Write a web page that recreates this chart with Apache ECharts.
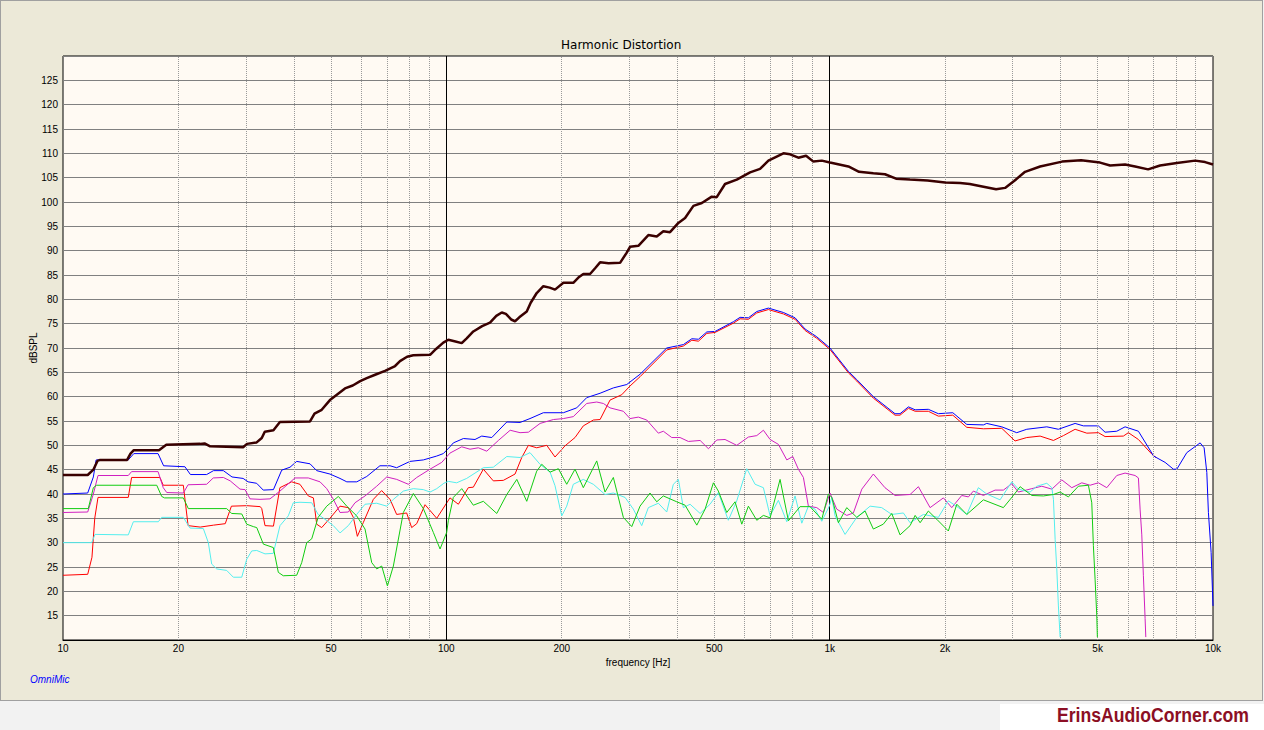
<!DOCTYPE html>
<html><head><meta charset="utf-8">
<script src="https://cdn.jsdelivr.net/npm/echarts@6/dist/echarts.min.js"></script>
<style>
html,body{margin:0;padding:0;background:#f2f2f2;width:1264px;height:730px;overflow:hidden;}
#panel{position:absolute;left:0;top:0;width:1261px;height:699px;background:#ECE9D8;border:1px solid #a0a0a0;}
#wm{position:absolute;left:1000px;top:704px;width:264px;height:26px;background:#fff;}
#chart{position:absolute;left:0;top:0;width:1264px;height:730px;}
</style></head>
<body>
<div id="panel"></div><div id="wm"></div>
<div id="chart"></div>
<script>
// ---- tick/grid values ----
const xTicks = [10,20,50,100,200,500,1000,2000,5000,10000];
const minorGrid = [20,30,40,50,60,70,80,90,200,300,400,500,600,700,800,900,2000,3000,4000,5000,6000,7000,8000,9000];
const majorGrid = [100,1000];

// ---- series data [Hz, dB SPL] ----
const fundamental = [[10,43.9],[11.6,43.9],[12.0,45],[12.3,46.8],[12.5,47],[14.7,47],[15.0,48.3],[15.3,49],[17.8,49],[18.3,49.7],[18.6,50.1],[22.8,50.3],[23.4,50.4],[24.2,49.8],[29.5,49.6],[30.2,50.3],[32.0,50.6],[33.0,51.5],[33.6,52.8],[35.4,53.1],[36.8,54.8],[44.1,54.9],[45.3,56.5],[47.3,57.3],[49.7,59.3],[52,60.5],[54.4,61.7],[57,62.3],[59.6,63.2],[62,63.8],[65.2,64.5],[69.2,65.3],[73.5,66.3],[75.7,67.3],[79,68.2],[82,68.5],[90.7,68.6],[94,69.8],[98.2,71.1],[101.2,71.7],[105,71.4],[109.7,71.0],[113,72],[117.6,73.4],[124,74.5],[130,75.2],[135,76.6],[139.5,77.3],[143,77],[148,75.8],[151.1,75.5],[155,76.3],[162.1,77.5],[166,79.3],[172.1,81.3],[179.1,82.7],[186,82.4],[192.1,82.0],[202,83.4],[214.4,83.4],[222,84.6],[227.7,85.2],[237.1,85.2],[245,86.5],[251.8,87.6],[265,87.4],[283.9,87.5],[295,89.5],[301.5,90.8],[316.9,91.0],[336.5,93.2],[353.9,92.9],[368.2,94.0],[383.3,93.8],[403,95.7],[419.6,96.7],[441.1,99.2],[464,99.8],[492.6,101.1],[507.5,101.0],[533.4,103.7],[572.3,104.6],[620,106.1],[658.3,106.8],[692.1,108.5],[757.3,110.0],[788.4,109.8],[828.6,109.1],[867.9,109.5],[906.8,108.3],[953.7,108.5],[1002,108.1],[1119,107.3],[1193,106.2],[1300,105.9],[1394,105.7],[1490,104.8],[1620,104.6],[1800,104.4],[2000,104.0],[2190,103.9],[2320,103.7],[2500,103.2],[2717,102.6],[2868,102.9],[3027,104.3],[3234,106.2],[3540,107.3],[4040,108.3],[4529,108.6],[5075,108.1],[5389,107.5],[5897,107.7],[6263,107.3],[6772,106.7],[7278,107.5],[8047,108.0],[8982,108.5],[9537,108.2],[10000,107.7]];

const thd = [[10,40],[11.6,40.2],[12.0,43.5],[12.2,47],[14.8,47],[15.3,48.3],[17.7,48.3],[18.3,45.8],[20.8,45.6],[21.5,44.0],[23.7,44.0],[24.7,44.8],[26.2,44.8],[27.6,43.5],[29.5,43.2],[30.4,42.5],[32.0,42.2],[33.3,40.8],[35.4,40.9],[37.2,44.9],[39.1,45.5],[40.7,46.7],[44.1,46.2],[45.9,44.8],[49.7,44.1],[52.8,43.2],[55.0,42.5],[58.4,42.5],[62.0,43.6],[67.1,45.8],[71.3,45.8],[74.2,45.4],[80.4,46.7],[87.1,47.0],[94.4,47.8],[98.2,48.3],[102.2,49.7],[104.3,50.5],[110.8,51.4],[118.8,51.2],[123.7,51.9],[131.4,51.6],[143.8,54.8],[155.7,54.7],[165.3,55.5],[179.1,56.7],[202,56.7],[218.8,57.7],[232.4,59.8],[251.8,60.7],[272.7,61.8],[295.6,62.5],[320.1,64.6],[375.8,70.0],[415.2,70.7],[436.9,71.9],[454.6,71.8],[478.1,73.3],[502.3,73.4],[560.8,75.4],[583.8,76.3],[613.7,76.2],[645.4,77.5],[692.1,78.2],[757.3,77.3],[812.4,76.2],[862.7,73.9],[925.4,72.3],[1002,70.0],[1119,65.2],[1177,63.5],[1300,60.0],[1481,56.5],[1526,56.5],[1605,57.9],[1671,57.3],[1809,57.4],[1921,56.5],[2095,56.7],[2279,54.3],[2518,54.2],[2569,54.5],[2812,53.8],[3076,52.6],[3267,53.3],[3685,53.8],[3951,53.3],[4368,54.5],[4591,54.0],[5023,54.0],[5230,52.7],[5610,52.9],[5897,53.8],[6389,52.9],[7000,47.8],[7499,46.5],[7884,45.1],[8047,45.1],[8544,48.5],[9256,50.5],[9480,49.5],[9636,44.4],[9728,36.2],[9888,28.0],[10000,17.0]];

const h2 = [[10,23.3],[11.6,23.5],[11.9,27],[12.1,35],[12.34,39.3],[14.8,39.3],[15.1,43.4],[17.9,43.4],[18.26,41.8],[20.6,41.8],[21.2,33.5],[22.8,33.2],[24.7,33.6],[26.5,33.9],[27.5,37.5],[30.2,37.6],[32.7,37.4],[33.0,37.0],[33.65,33.5],[35.4,33.4],[36.8,41.3],[39.5,42.5],[41.5,42.0],[43.65,39.6],[45.0,39.2],[45.9,33.8],[47.3,33.1],[49.7,35.0],[52.8,37.5],[55.5,37.2],[57.2,35.2],[58.6,31.3],[60.7,34.1],[64.5,38.9],[67.8,40.7],[71.3,38.9],[74.2,35.8],[78.8,36.1],[81.2,33.1],[83.7,33.9],[88.0,37.8],[94.4,35.0],[102.2,39.2],[107.5,37.9],[114.1,41.3],[117.6,41.4],[124.9,45.1],[132.6,42.7],[140.8,42.8],[151.1,44.1],[157.3,47.5],[163.7,50.0],[172.1,49.5],[182.8,50.0],[192.1,47.6],[204.0,49.9],[216.6,51.6],[227.7,54.0],[241.8,55.2],[251.8,55.3],[267.3,59.3],[286.8,60.4],[301.5,62.2],[320.1,64.1],[375.8,69.6],[415.2,70.4],[436.9,71.6],[454.6,71.4],[478.1,73.0],[502.3,73.2],[560.8,75.1],[583.8,76.0],[613.7,75.9],[645.4,77.2],[692.1,77.9],[757.3,77.0],[812.4,75.9],[862.7,73.6],[925.4,72.0],[1002,69.7],[1119,64.9],[1177,63.2],[1300,59.7],[1481,56.2],[1526,56.2],[1605,57.6],[1671,57.0],[1809,57.0],[1921,56.0],[2095,56.2],[2279,53.7],[2518,53.4],[2812,53.5],[3045,50.9],[3267,51.6],[3540,51.9],[3835,51.0],[4072,52.0],[4368,53.3],[4686,52.5],[5023,52.6],[5230,51.8],[5837,51.9],[6016,52.6],[6389,51.2],[6924,48.2],[7100,47.5]];

const h3 = [[10,36.2],[11.6,36.3],[12.0,40],[12.34,43.8],[14.8,43.8],[15.1,44.6],[17.7,44.6],[18.26,41.3],[18.65,40.3],[20.6,40.2],[21.2,41.9],[23.7,42.0],[24.66,43.3],[26.2,43.4],[27.3,42.7],[28.96,41.0],[29.85,40.9],[30.75,39.0],[32.66,38.9],[34.67,39.0],[36.82,40.6],[40.29,43.3],[43.65,43.3],[46.83,42.5],[48.75,41.1],[50.73,38.9],[52.81,36.2],[55.5,36.3],[57.78,38.2],[61.36,39.6],[65.82,41.6],[69.92,43.5],[74.23,43.0],[79.6,42.0],[83.72,43.4],[90.68,45.1],[97.28,46.5],[102.2,48.4],[109.7,49.7],[115.3,49.2],[121.2,49.5],[127.5,48.8],[136.7,51.0],[146.7,53.1],[155.7,52.6],[163.7,52.7],[175.6,54.5],[190.2,55.3],[202,55.5],[214.4,55.9],[232.4,58.6],[246.8,58.9],[256.8,58.6],[267.3,57.7],[289.6,57.0],[301.5,55.5],[316.9,55.8],[333.3,55.2],[357.3,52.5],[368.2,52.9],[387.3,51.6],[407.1,51.6],[428.0,50.8],[459.3,51.0],[482.8,49.3],[507.5,51.1],[533.4,51.2],[572.3,50.0],[613.7,51.7],[645.4,52.0],[671.6,53.1],[699.2,51.2],[734.9,50.2],[773.0,47.0],[801.2,47.7],[828.6,45.1],[854.0,43.4],[880.0,37.5],[925.4,37.2],[963,36.2],[1002,40.2],[1043,36.9],[1108,35.6],[1153,36.1],[1213,41.0],[1300,44.1],[1394,41.3],[1481,39.7],[1621,39.9],[1704,41.5],[1828,37.2],[1980,39.2],[2082,37.2],[2211,39.7],[2301,39.4],[2371,40.6],[2518,39.7],[2701,40.8],[2839,40.8],[2986,42.1],[3106,40.4],[3368,41.1],[3576,41.6],[3798,41.0],[4033,42.9],[4282,41.3],[4547,42.3],[4779,41.8],[5023,42.3],[5283,41.3],[5610,43.8],[5897,44.3],[6263,43.8],[6389,43.3],[6454,36.9],[6520,31.6],[6583,23.2],[6651,14.4],[6679,10.6]];

const h4 = [[10,30.0],[11.88,30.0],[12.12,31.7],[14.8,31.6],[15.26,34.3],[17.73,34.3],[18.09,35.2],[20.6,35.2],[21.45,33.0],[23.23,32.9],[23.94,30.0],[24.43,25.6],[25.18,24.6],[26.73,24.3],[27.82,22.9],[29.26,22.9],[30.15,26.6],[31.07,28.3],[32.02,28.4],[33.65,27.7],[35.37,27.8],[36.82,33.5],[38.7,35.5],[39.88,38.2],[41.52,38.3],[44.56,38.2],[46.3,35.8],[48.25,34.8],[50.73,33.5],[52.81,32.0],[55.5,33.5],[58.37,35.8],[61.36,37.9],[65.82,38.1],[69.92,37.5],[72.75,38.9],[77.24,40.6],[82.02,41.1],[87.10,40.9],[90.68,40.4],[94.41,41.1],[98.5,42.2],[101.2,42.6],[106.4,42.3],[113.0,43.2],[124.9,45.4],[132.6,45.5],[143.8,47.7],[155.7,47.5],[165.3,48.5],[175.6,46.1],[186.5,44.5],[192.1,41.7],[200.0,35.5],[206.1,37.5],[214.4,42.0],[227.7,43.0],[241.8,42.0],[259.4,39.9],[272.7,40.2],[292.6,39.3],[307.5,36.9],[323.4,33.5],[336.5,37.2],[357.3,38.1],[375.8,36.3],[391.0,42.0],[403.0,43.0],[415.2,37.2],[432.4,37.9],[459.3,36.0],[487.6,37.9],[512.4,40.3],[544.1,34.6],[572.3,38.6],[607.8,45.2],[638.9,42.0],[671.6,41.3],[699.2,35.5],[734.9,38.7],[773.0,34.3],[812.4,39.6],[845.8,34.0],[880.0,37.5],[916.0,36.9],[953.7,34.4],[998,37.5],[1013,39.3],[1033,35.5],[1097,31.7],[1177,35.2],[1275,37.5],[1367,37.2],[1452,35.8],[1557,36.1],[1621,34.1],[1756,35.8],[1921,35.2],[2040,38.6],[2167,37.2],[2279,35.8],[2443,41.3],[2569,40.0],[2783,38.8],[2986,42.5],[3106,41.0],[3333,40.4],[3470,41.6],[3685,42.2],[3798,41.3],[3835,38.9],[3874,30.7],[3913,24.6],[3951,17.0],[3992,10.6]];

const h5 = [[10,37.0],[11.64,37.0],[12.0,41.3],[12.24,41.8],[17.56,41.8],[18.09,39.5],[18.4,39.2],[20.6,39.2],[21.23,37.0],[26.73,37.0],[27.55,36.0],[29.26,35.9],[30.15,33.8],[31.37,33.3],[32.02,33.1],[33.32,29.7],[35.37,29.0],[36.45,23.9],[37.55,23.2],[40.7,23.3],[41.95,25.9],[43.23,30.0],[44.56,30.8],[46.3,35.2],[48.75,37.5],[52.28,39.5],[54.98,37.5],[58.37,35.5],[61.36,32.8],[63.88,25.9],[65.82,24.6],[67.83,25.2],[70.2,21.1],[72.75,25.2],[77.24,36.2],[82.02,40.1],[87.10,37.0],[92.5,32.1],[96.3,28.7],[100.2,32.1],[101.2,34.5],[104.3,39.3],[109.7,41.1],[117.6,37.7],[124.9,38.5],[135.4,36.0],[143.8,39.9],[152.7,43.0],[162.1,38.5],[172.1,44.7],[177.4,46.1],[186.5,44.5],[196.0,45.2],[206.1,42.0],[216.6,45.1],[227.7,41.3],[246.8,46.8],[259.4,40.4],[272.7,43.4],[289.6,35.2],[304.6,33.3],[320.1,37.5],[339.9,40.2],[353.9,38.4],[368.2,39.6],[383.3,39.0],[399.1,38.4],[419.6,37.7],[450.2,33.6],[473.3,36.9],[497.4,42.3],[512.4,40.6],[538.9,36.2],[566.5,38.4],[589.8,33.8],[613.7,37.5],[645.4,34.6],[671.6,35.6],[699.2,35.1],[742.4,43.0],[780.5,34.5],[837.2,37.4],[888.9,37.4],[953.7,34.8],[992.2,40.0],[1013,39.3],[1054,34.1],[1108,37.2],[1177,35.2],[1237,36.5],[1300,32.8],[1380,33.8],[1452,36.0],[1526,31.6],[1621,33.5],[1671,35.6],[1722,34.1],[1809,36.5],[1903,34.8],[2040,32.4],[2146,37.9],[2279,35.8],[2518,38.8],[2839,37.2],[3015,39.7],[3139,41.5],[3368,39.7],[3611,39.6],[3835,39.9],[3992,40.4],[4196,39.4],[4455,41.6],[4731,41.8],[4828,38.2],[4875,29.4],[4925,22.5],[4975,15.0],[4993,10.6]];

const FONT = '"Liberation Sans", Arial, sans-serif';
const chart = echarts.init(document.getElementById('chart'), null, {renderer: 'svg'});

function lineSeries(name, data, color, width, z) {
  return {name, type: 'line', data, showSymbol: false, symbol: 'none', smooth: false,
    lineStyle: {color, width}, itemStyle: {color}, z, silent: true, clip: true};
}

chart.setOption({
  animation: false,
  backgroundColor: 'transparent',
  title: {text: 'Harmonic Distortion', left: 556, top: 34,
    textStyle: {fontFamily: '"DejaVu Sans", sans-serif', fontSize: 12, fontWeight: 'normal', color: '#000'}},
  grid: {left: 63, right: 51, top: 56, bottom: 90, show: true, backgroundColor: '#FFFAF3',
    borderColor: '#000', borderWidth: 1},
  xAxis: {type: 'log', logBase: 10, min: 10, max: 10000,
    name: 'frequency [Hz]', nameLocation: 'middle', nameGap: 15,
    nameTextStyle: {fontFamily: FONT, fontSize: 10, color: '#000'},
    axisLine: {show: true, lineStyle: {color: '#000', width: 1}},
    axisTick: {show: false}, splitLine: {show: false},
    axisLabel: {customValues: xTicks, fontFamily: FONT, fontSize: 10, color: '#000', margin: 3,
      formatter: v => v >= 1000 ? (v / 1000) + 'k' : String(v)}},
  yAxis: {type: 'value', min: 10, max: 130, interval: 5,
    name: 'dBSPL', nameLocation: 'middle', nameGap: 25, nameRotate: 90, nameMoveOverlap: false,
    nameTextStyle: {fontFamily: FONT, fontSize: 10, color: '#000'},
    axisLine: {show: false}, axisTick: {show: false},
    axisLabel: {fontFamily: FONT, fontSize: 10, color: '#000', margin: 5,
      formatter: v => (v <= 10 || v >= 130) ? '' : String(v)},
    splitLine: {show: true, lineStyle: {color: '#808080', width: 1}}},
  graphic: [
    {type: 'text', left: 30, top: 674, silent: true,
      style: {text: 'OmniMic', fill: '#0000ff', font: 'italic 10px ' + FONT}},
    {type: 'text', x: 1057, y: 704, scaleX: 0.84, silent: true,
      style: {text: 'ErinsAudioCorner.com', fill: '#8c0f24', font: 'bold 21px ' + FONT}}
  ],
  series: [
    {type: 'line', data: [], silent: true,
      markLine: {silent: true, symbol: 'none', label: {show: false}, animation: false,
        lineStyle: {color: '#9a9a9a', type: 'dotted', width: 1},
        data: minorGrid.map(v => ({xAxis: v}))}, z: 1},
    {type: 'line', data: [], silent: true,
      markLine: {silent: true, symbol: 'none', label: {show: false}, animation: false,
        lineStyle: {color: '#000', type: 'solid', width: 1},
        data: majorGrid.map(v => ({xAxis: v}))}, z: 1},
    lineSeries('H2', h2, '#ff0000', 1, 3),
    lineSeries('THD', thd, '#0000ff', 1, 4),
    lineSeries('H3', h3, '#d020c0', 1, 5),
    lineSeries('H4', h4, '#55eeee', 1, 6),
    lineSeries('H5', h5, '#11cc11', 1, 7),
    lineSeries('Fundamental', fundamental, '#3a0000', 2.5, 8)
  ]
});
</script>
</body></html>
